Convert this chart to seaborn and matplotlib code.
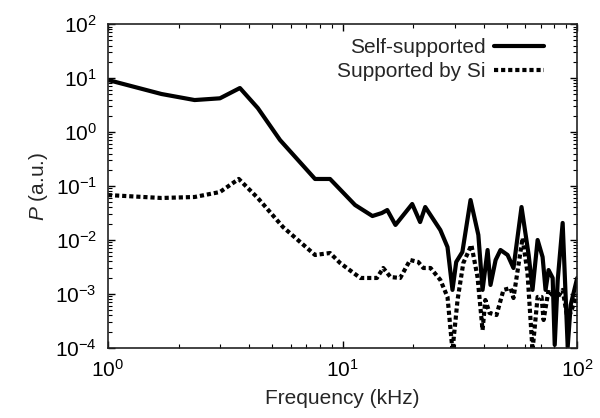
import numpy as np
import pandas as pd
import matplotlib
matplotlib.use("Agg")
import matplotlib.pyplot as plt
import seaborn as sns

# Self-supported membrane
freq_self = [1.0, 1.69, 2.34, 3.0, 3.65, 4.35, 5.41, 7.63, 8.84, 11.3, 13.4, 14.7, 15.5,
             16.8, 19.8, 21.4, 22.5, 26.1, 28.0, 29.4, 30.5, 32.4, 35.1, 37.9, 39.5,
             41.5, 42.7, 44.9, 47.1, 50.5, 53.5, 57.9, 62.1, 64.5, 67.8, 71.2, 73.3,
             75.5, 78.6, 80.2, 82.6, 86.7, 91.1, 93.8, 100.0]
p_self = [9.2, 5.06, 3.91, 4.21, 6.53, 2.78, 0.711, 0.135, 0.135, 0.0445, 0.0278, 0.0316,
          0.0359, 0.019, 0.0464, 0.0215, 0.0408, 0.0153, 0.0074, 0.00119, 0.00392, 0.006,
          0.055, 0.0124, 0.00119, 0.00653, 0.00147, 0.00426, 0.00653, 0.00528, 0.00303,
          0.0408, 0.00528, 0.00119, 0.01, 0.00484, 0.00119, 0.00278, 0.00198, 0.000114,
          0.00182, 0.0207, 0.000105, 0.000625, 0.00198]

# Supported by Si
freq_si = [1.0, 1.69, 2.34, 3.0, 3.61, 4.35, 5.57, 7.63, 8.84, 9.76, 11.9, 14.0, 14.9,
           16.0, 17.6, 19.4, 21.0, 22.1, 23.7, 26.1, 28.0, 29.4, 30.9, 32.7, 35.4, 37.6,
           39.5, 40.6, 42.3, 45.3, 48.5, 52.0, 53.5, 58.5, 61.4, 64.5, 67.8, 70.5, 71.9,
           75.5, 81.0, 86.7, 91.1, 100.0]
p_si = [0.068, 0.06, 0.0626, 0.0774, 0.135, 0.06, 0.0174, 0.00528, 0.00574, 0.00375,
        0.00198, 0.00198, 0.00303, 0.00206, 0.00198, 0.00426, 0.00392, 0.00303, 0.00303,
        0.00182, 0.00088, 0.00009, 0.000774, 0.00375, 0.00808, 0.00206, 0.000215,
        0.000774, 0.000445, 0.000408, 0.00119, 0.00129, 0.000843, 0.0109, 0.00245,
        0.00009, 0.00088, 0.00088, 0.00033, 0.00119, 0.000774, 0.00119, 0.00033, 0.00095]

labels = ["Self-supported", "Supported by Si"]

sns.set_style("ticks")
plt.rcParams["font.family"] = ["Liberation Sans", "DejaVu Sans"]
plt.rcParams["mathtext.fontset"] = "custom"
plt.rcParams["mathtext.rm"] = "Liberation Sans"
plt.rcParams["mathtext.it"] = "Liberation Sans:italic"
plt.rcParams["font.size"] = 15

df = pd.concat([
    pd.DataFrame({"f": freq_self, "P": p_self, "s": labels[0]}),
    pd.DataFrame({"f": freq_si, "P": p_si, "s": labels[1]}),
])

fig = plt.figure(figsize=(6.0, 4.18), dpi=100)
ax = fig.add_axes([0.18, 0.1675, 0.782, 0.775])

sns.lineplot(data=df[df.s == labels[0]], x="f", y="P", ax=ax, color="black",
             lw=3.0, estimator=None, sort=False, label=labels[0])
sns.lineplot(data=df[df.s == labels[1]], x="f", y="P", ax=ax, color="black",
             lw=3.0, estimator=None, sort=False, label=labels[1])
ax.lines[1].set_dashes([1.0, 0.7])
ax.lines[1].set_dash_capstyle("butt")

ax.set_xscale("log")
ax.set_yscale("log")
ax.set_xlim(1, 100)
ax.set_ylim(1e-4, 1e2)
ax.set_xlabel("Frequency (kHz)", fontsize=15, labelpad=6)
ax.set_ylabel("$P$ (a.u.)", fontsize=15, labelpad=4)
ax.set_yticks([1e-4, 1e-3, 1e-2, 1e-1, 1e0, 1e1, 1e2])
ax.set_xticks([1, 10, 100])

ax.tick_params(which="both", direction="in", top=True, right=True, labelsize=15, colors="black")
ax.tick_params(which="major", length=5, width=1, pad=8)
ax.tick_params(which="minor", length=3, width=0.8)
for sp in ax.spines.values():
    sp.set_linewidth(1.2)
    sp.set_color("#222222")

leg = ax.legend(loc="upper right", bbox_to_anchor=(0.955, 0.995), frameon=False,
                markerfirst=False, handlelength=2.4, handletextpad=0.4,
                labelspacing=0.25, fontsize=15, borderaxespad=0.2)

fig.savefig("out.png", dpi=100)
